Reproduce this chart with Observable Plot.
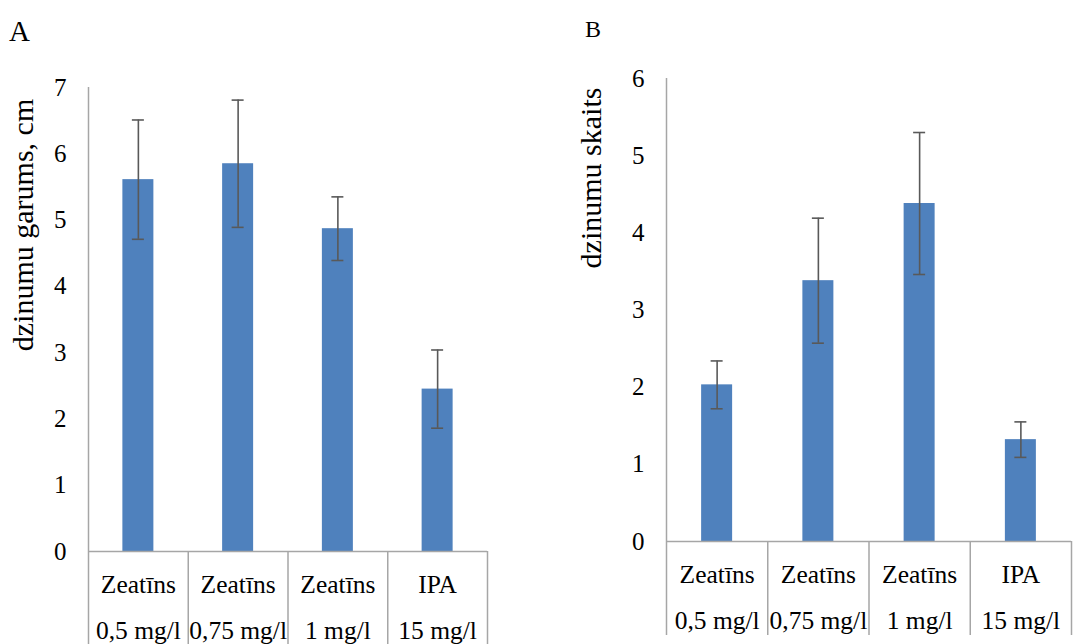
<!DOCTYPE html>
<html>
<head>
<meta charset="utf-8">
<script src="https://cdn.jsdelivr.net/npm/d3@7"></script>
<script src="https://cdn.jsdelivr.net/npm/@observablehq/plot@0.6"></script>
<style>
  html, body { margin: 0; padding: 0; background: #fff; }
  #wrap { position: relative; width: 1076px; height: 644px; overflow: hidden; font-family: 'Liberation Serif', 'DejaVu Serif', serif; color: #000; }
  #wrap svg, #wrap svg text { font-family: 'Liberation Serif', 'DejaVu Serif', serif !important; }
  .panel { position: absolute; top: 0; }
  .plabel { position: absolute; line-height: 1; white-space: nowrap; }
  .ytitle { position: absolute; line-height: 1; white-space: nowrap; transform: translate(-50%, -50%) rotate(-90deg); font-size: 30px; }
</style>
</head>
<body>
<div id="wrap">
  <div class="plabel" style="left:9px; top:17px; font-size:29px;">A</div>
  <div class="plabel" style="left:585px; top:17px; font-size:24px;">B</div>
  <div class="ytitle" style="left:23px; top:225px;">dzinumu garums, cm</div>
  <div class="ytitle" style="left:591px; top:178px;">dzinumu skaits</div>
  <div id="pa" class="panel" style="left:0px;"></div>
  <div id="pb" class="panel" style="left:540px;"></div>
</div>
<script>
// ---- data ----
const categories = ["Zeatīns 0,5 mg/l", "Zeatīns 0,75 mg/l", "Zeatīns 1 mg/l", "IPA 15 mg/l"];
const labelTop = ["Zeatīns", "Zeatīns", "Zeatīns", "IPA"];
const labelBottom = ["0,5 mg/l", "0,75 mg/l", "1 mg/l", "15 mg/l"];
const lengthMean = [5.61, 5.85, 4.87, 2.45];
const lengthErr = [0.90, 0.96, 0.48, 0.59];
const countMean = [2.03, 3.38, 4.38, 1.32];
const countErr = [0.31, 0.81, 0.92, 0.23];
const lengthTicks = [0, 1, 2, 3, 4, 5, 6, 7];
const countTicks = [0, 1, 2, 3, 4, 5, 6];

const BAR = "#4f81bd", ERR = "#595959", AXIS = "#a6a6a6";
const FONT = "'Liberation Serif', 'DejaVu Serif', serif";

function panel({means, errs, ticks, width, height, marginLeft, marginRight, marginTop, marginBottom, sepBottom}) {
  const rows = categories.map((c, i) => ({cat: c, mean: means[i], err: errs[i], top: labelTop[i], bottom: labelBottom[i]}));
  const bw = (width - marginLeft - marginRight) / categories.length;
  const plotH = height - marginTop - marginBottom;
  const barInset = (bw - 31) / 2;
  const capInset = (bw - 12) / 2;
  return Plot.plot({
    width, height, marginLeft, marginRight, marginTop, marginBottom,
    style: {fontFamily: FONT, fontSize: "25px", color: "#000", background: "transparent", overflow: "visible"},
    x: {domain: categories, padding: 0, round: false, axis: null},
    y: {domain: [0, d3.max(ticks)], axis: null},
    marks: [
      Plot.barY(rows, {x: "cat", y: "mean", fill: BAR, insetLeft: barInset, insetRight: barInset}),
      Plot.ruleY([0], {stroke: AXIS, strokeWidth: 1.5}),
      Plot.ruleX([categories[0]], {x: d => d, dx: -bw / 2, stroke: AXIS, strokeWidth: 1.5, insetBottom: -sepBottom}),
      Plot.ruleX(categories.slice(1), {x: d => d, dx: -bw / 2, stroke: AXIS, strokeWidth: 1.5, insetTop: plotH, insetBottom: -sepBottom}),
      Plot.ruleX([categories[categories.length - 1]], {x: d => d, dx: bw / 2, stroke: AXIS, strokeWidth: 1.5, insetTop: plotH, insetBottom: -sepBottom}),
      Plot.ruleX(rows, {x: "cat", y1: d => d.mean - d.err, y2: d => d.mean + d.err, stroke: ERR, strokeWidth: 1.6}),
      Plot.tickY(rows, {x: "cat", y: d => d.mean + d.err, stroke: ERR, strokeWidth: 1.6, insetLeft: capInset, insetRight: capInset}),
      Plot.tickY(rows, {x: "cat", y: d => d.mean - d.err, stroke: ERR, strokeWidth: 1.6, insetLeft: capInset, insetRight: capInset}),
      Plot.axisY({ticks, tickSize: 0, tickPadding: 22, label: null, fontSize: 25, tickFormat: d => String(d)}),
      Plot.text(rows, {x: "cat", y: 0, text: "top", dy: 33, fontSize: 25.5, fill: "#000"}),
      Plot.text(rows, {x: "cat", y: 0, text: "bottom", dy: 79, fontSize: 25.5, fill: "#000"})
    ]
  });
}

document.getElementById("pa").append(panel({
  means: lengthMean, errs: lengthErr, ticks: lengthTicks,
  width: 540, height: 644, marginLeft: 88, marginRight: 53, marginTop: 87, marginBottom: 93, sepBottom: 93
}));
document.getElementById("pb").append(panel({
  means: countMean, errs: countErr, ticks: countTicks,
  width: 536, height: 644, marginLeft: 126, marginRight: 5, marginTop: 78, marginBottom: 103, sepBottom: 94
}));
</script>
</body>
</html>
